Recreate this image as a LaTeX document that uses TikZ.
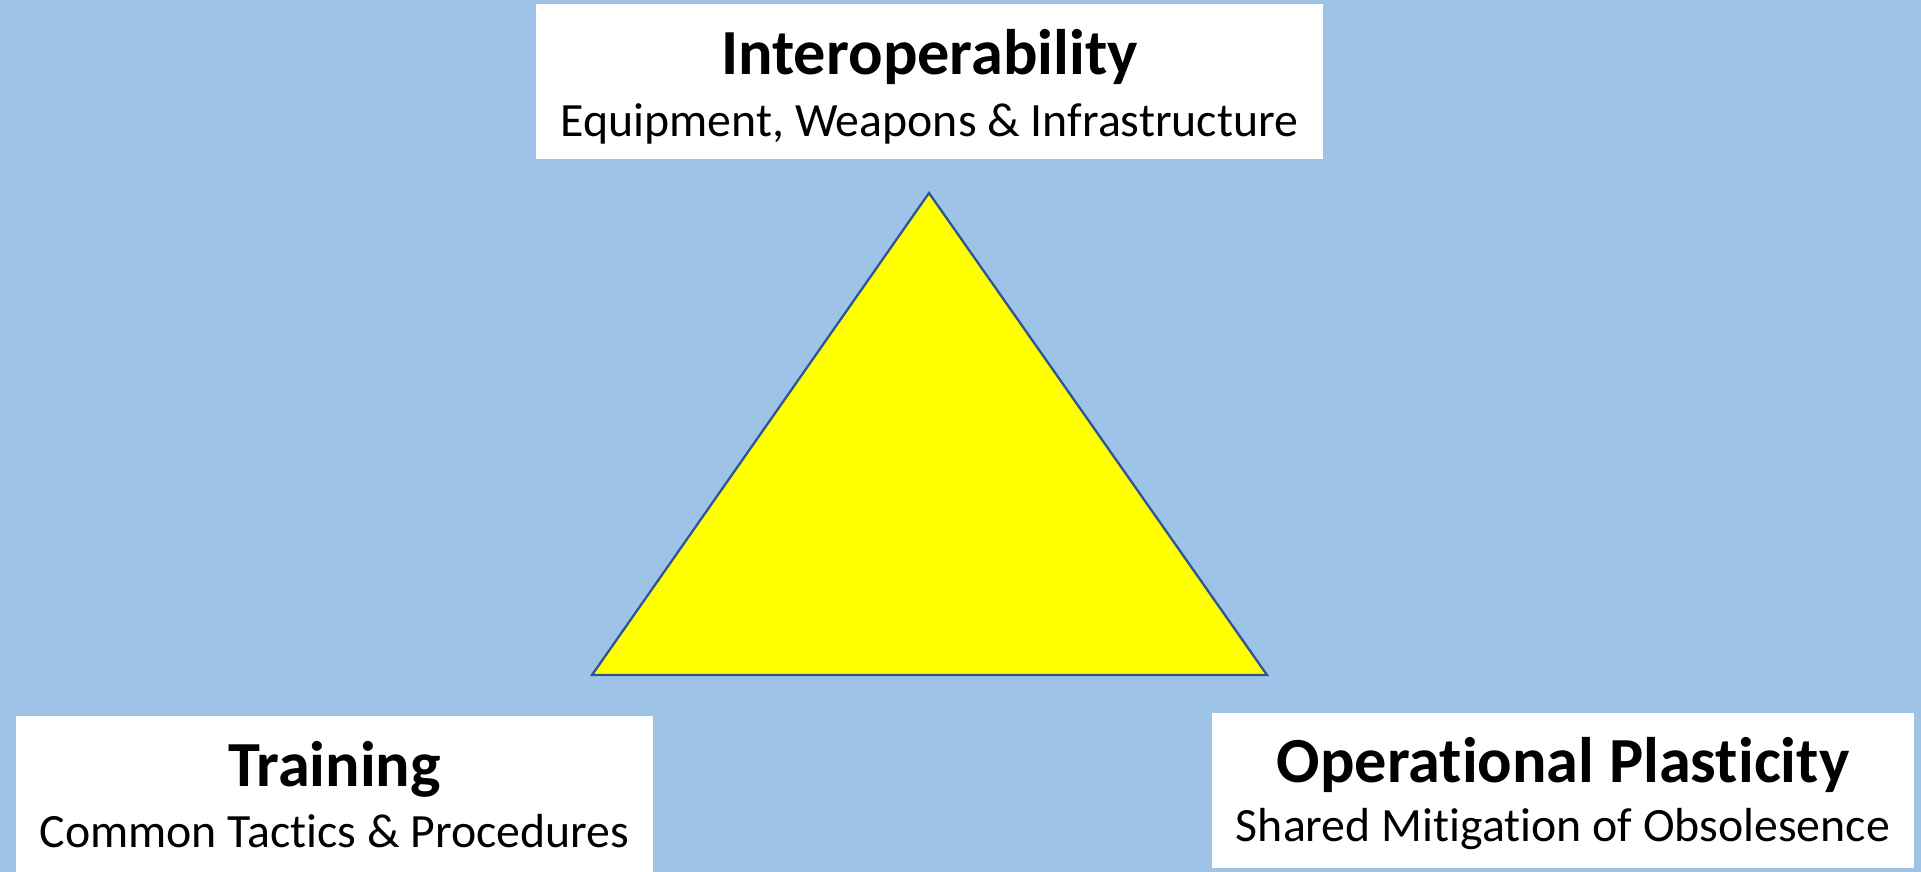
\documentclass[tikz,border=0pt]{standalone}
\usepackage{fontspec}
\setmainfont{Carlito}[Ligatures=NoCommon]
\definecolor{skyblue}{HTML}{9DC3E6}
\definecolor{edgeblue}{HTML}{2F5597}
\definecolor{triyellow}{HTML}{FFFF00}
\tikzset{
  box/.style={fill=white, inner sep=0pt, minimum height=1.55cm},
  head/.style={anchor=base, inner sep=0pt, font=\fontsize{18.3}{20}\selectfont\bfseries},
  sub/.style={anchor=base, inner sep=0pt, font=\fontsize{13.6}{16}\selectfont}
}
\begin{document}
\begin{tikzpicture}
            \fill[skyblue] (0,0) rectangle (19.21,8.72);
            % triangle in the middle
            \coordinate (apex) at (9.29,6.79);
            \coordinate (lft) at (5.92,1.97);
            \coordinate (rgt) at (12.67,1.97);
            \draw[edgeblue, fill=triyellow, line width=0.65pt] (apex) -- (lft) -- (rgt) -- cycle;
            % the three boxes
            \node[box, minimum width=7.87cm] (inter) at (9.295,7.905) {};
            \node[box, minimum width=6.37cm, minimum height=1.56cm] (train) at (3.345,0.78) {};
            \node[box, minimum width=7.02cm] (plast) at (15.63,0.815) {};
            \node[head] (interH) at (9.295,7.97) {Interoperability};
            \node[sub] (interS) at (9.295,7.35) {Equipment, Weapons \& Infrastructure};
            \node[head] (trainH) at (3.345,0.85) {Training};
            \node[sub] (trainS) at (3.345,0.24) {Common Tactics \& Procedures};
            \node[head] (plastH) at (15.63,0.89) {Operational Plasticity};
            \node[sub] (plastS) at (15.63,0.30) {Shared Mitigation of Obsolesence};
\end{tikzpicture}
\end{document}
